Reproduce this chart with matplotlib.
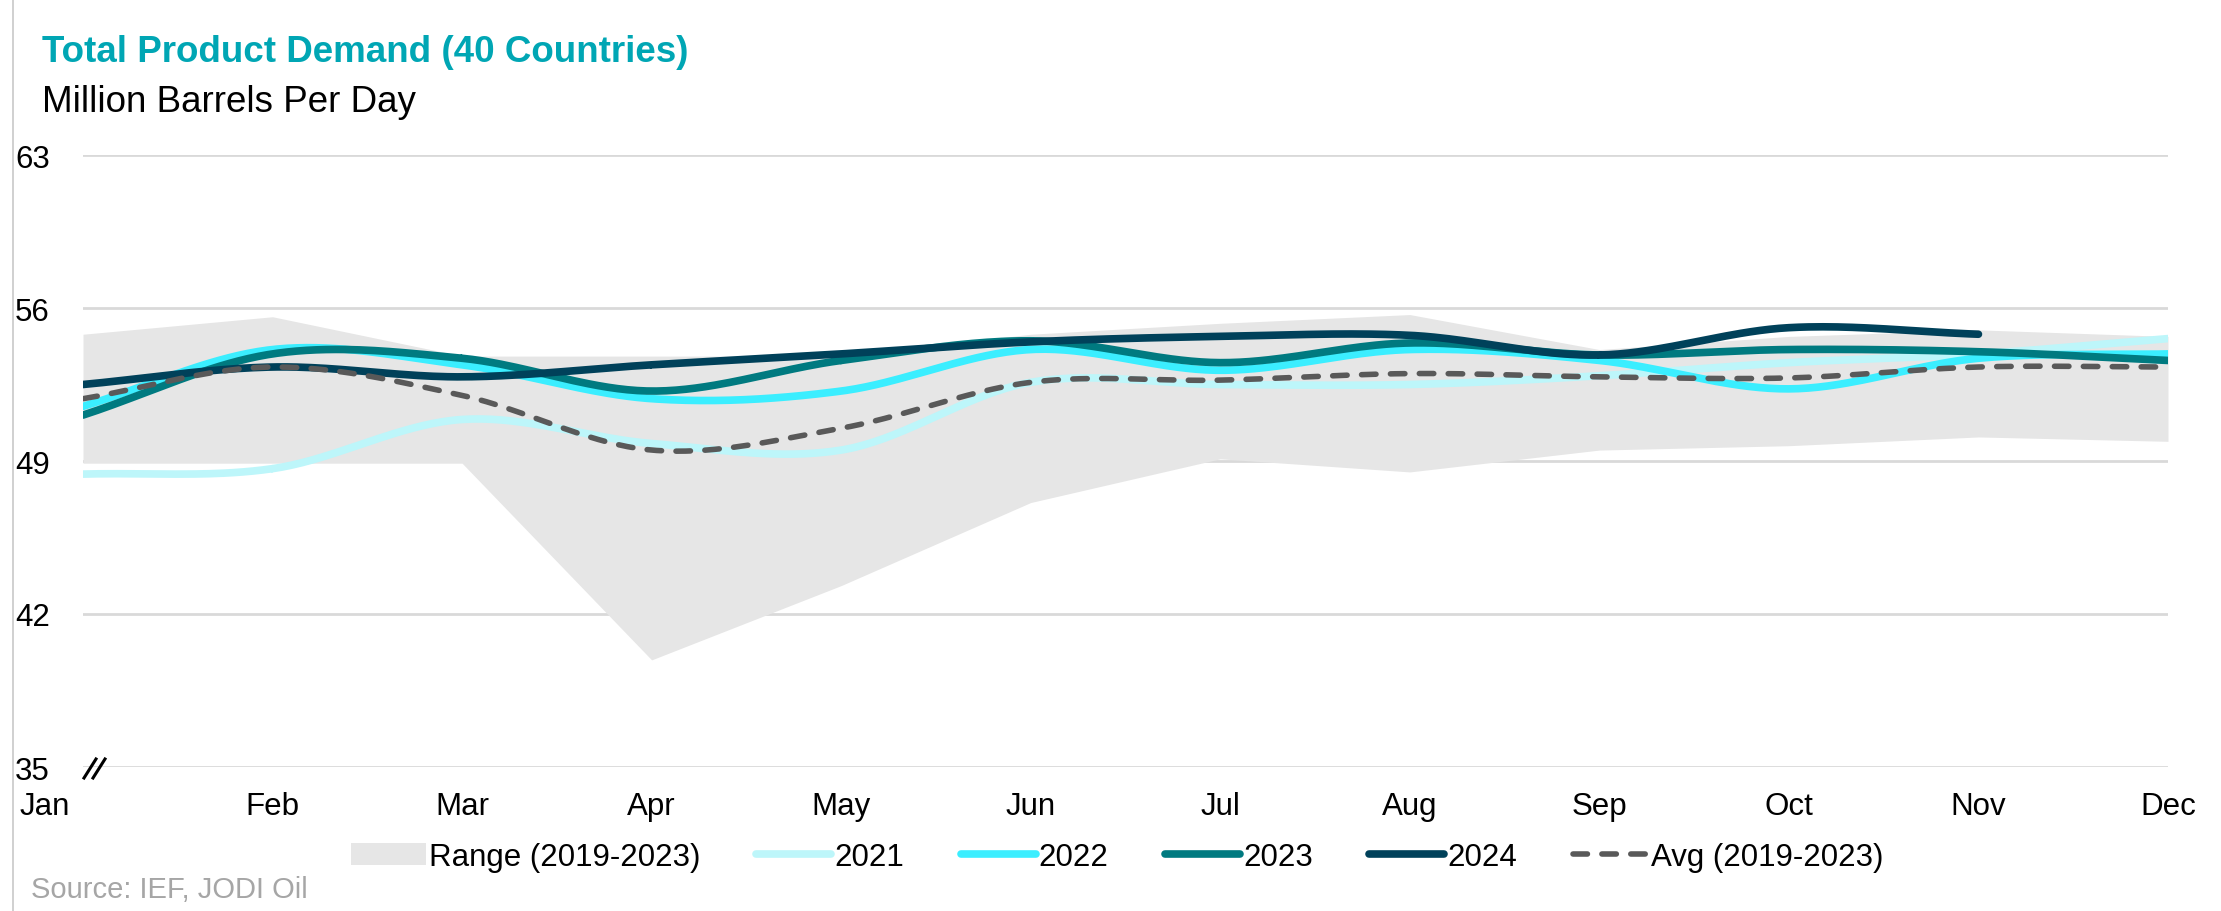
import matplotlib
matplotlib.use('Agg')
import matplotlib.pyplot as plt
from matplotlib.lines import Line2D
from matplotlib.transforms import ScaledTranslation
import numpy as np

plt.rcParams['font.family'] = ['Liberation Sans', 'DejaVu Sans']

months = ['Jan', 'Feb', 'Mar', 'Apr', 'May', 'Jun', 'Jul', 'Aug', 'Sep', 'Oct', 'Nov', 'Dec']

# values, million barrels per day
range_high = [54.8, 55.6, 53.8, 53.8, 53.8, 54.8, 55.3, 55.7, 54.1, 54.7, 55.0, 54.7]
range_low = [48.9, 48.9, 48.9, 39.9, 43.3, 47.1, 49.1, 48.5, 49.5, 49.7, 50.1, 49.9]
y2021 = [48.4, 48.65, 50.9, 49.8, 49.5, 52.6, 52.5, 52.5, 52.9, 53.5, 53.9, 54.6]
y2022 = [51.5, 54.1, 53.4, 51.85, 52.2, 54.1, 53.15, 54.1, 53.6, 52.3, 53.7, 53.9]
y2023 = [51.1, 53.9, 53.7, 52.2, 53.6, 54.5, 53.5, 54.4, 53.85, 54.1, 54.0, 53.6]
y2024 = [52.5, 53.3, 52.85, 53.4, 53.9, 54.45, 54.7, 54.75, 53.85, 55.1, 54.8]
avg = [51.85, 53.3, 52.0, 49.5, 50.5, 52.6, 52.7, 53.0, 52.85, 52.8, 53.3, 53.3]


def smooth(vals, n=40):
    # catmull-rom curve through the monthly points, like Excel's smoothed lines
    p = np.asarray(vals, dtype=float)
    x = np.arange(len(p), dtype=float)
    px = np.concatenate([[2 * x[0] - x[1]], x, [2 * x[-1] - x[-2]]])
    py = np.concatenate([[2 * p[0] - p[1]], p, [2 * p[-1] - p[-2]]])
    xs, ys = [], []
    t = np.linspace(0, 1, n)
    for i in range(1, len(px) - 2):
        for arr, out in ((px, xs), (py, ys)):
            p0, p1, p2, p3 = arr[i - 1], arr[i], arr[i + 1], arr[i + 2]
            seg = 0.5 * ((2 * p1) + (-p0 + p2) * t + (2 * p0 - 5 * p1 + 4 * p2 - p3) * t ** 2
                         + (-p0 + 3 * p1 - 3 * p2 + p3) * t ** 3)
            out.extend(seg)
    return np.array(xs), np.array(ys)


fig = plt.figure(figsize=(22.21, 9.12), dpi=100)
ax = fig.add_axes([83 / 2221, 144 / 912, (2168 - 83) / 2221, (768 - 156) / 912])

x = np.arange(12)
ax.fill_between(x, range_low, range_high, color='#E6E6E6', linewidth=0, label='Range (2019-2023)', zorder=1)

series = [(y2021, '#BDF6FA', '2021'), (y2022, '#3BEEFF', '2022'),
          (y2023, '#007A80', '2023'), (y2024, '#00415A', '2024')]
for vals, col, lab in series:
    sx, sy = smooth(vals)
    ax.plot(sx, sy, color=col, lw=5.5, label=lab, solid_capstyle='round', zorder=3)

sx, sy = smooth(avg)
ax.plot(sx, sy, color='#595959', lw=4, ls=(0, (2.6, 2.6)), dash_capstyle='round',
        label='Avg (2019-2023)', zorder=4)

ax.set_xlim(0, 11)
ax.set_ylim(35, 63)
ax.set_yticks([35, 42, 49, 56, 63])
ax.set_xticks(x)
ax.set_xticklabels(months)
ax.grid(axis='y', color='#D9D9D9', lw=2)
ax.set_axisbelow(True)
for s in ax.spines.values():
    s.set_visible(False)
ax.tick_params(axis='both', length=0, labelsize=22.5, colors='black')
ax.tick_params(axis='y', pad=24)
ax.tick_params(axis='x', pad=17)
# first month label sits left of its tick in the original
lbl = ax.get_xticklabels()[0]
lbl.set_transform(lbl.get_transform() + ScaledTranslation(-0.38, 0, fig.dpi_scale_trans))

# axis break marks at the bottom of the value axis
for dx in (0, 9):
    fig.add_artist(Line2D([(84 + dx) / 2221, (96 + dx) / 2221],
                          [(912 - 779) / 912, (912 - 760) / 912], color='black', lw=2.2))

# thin border line at the left edge
fig.add_artist(Line2D([13 / 2221, 13 / 2221], [0, 1], color='#C8C8C8', lw=1.2))

fig.text(42 / 2221, 1 - 52 / 912, 'Total Product Demand (40 Countries)', fontsize=26.5,
         fontweight='bold', color='#00A6B4', va='center')
fig.text(42 / 2221, 1 - 102 / 912, 'Million Barrels Per Day', fontsize=26.5, color='black', va='center')
fig.text(31 / 2221, 1 - 890 / 912, 'Source: IEF, JODI Oil', fontsize=21, color='#A6A6A6', va='center')

fig.legend(loc='center', bbox_to_anchor=(0.503, 1 - 858 / 912), ncol=6, frameon=False,
           fontsize=22.5, handlelength=2.4, handletextpad=0.1, columnspacing=1.8)

fig.savefig('out.png', dpi=100)
